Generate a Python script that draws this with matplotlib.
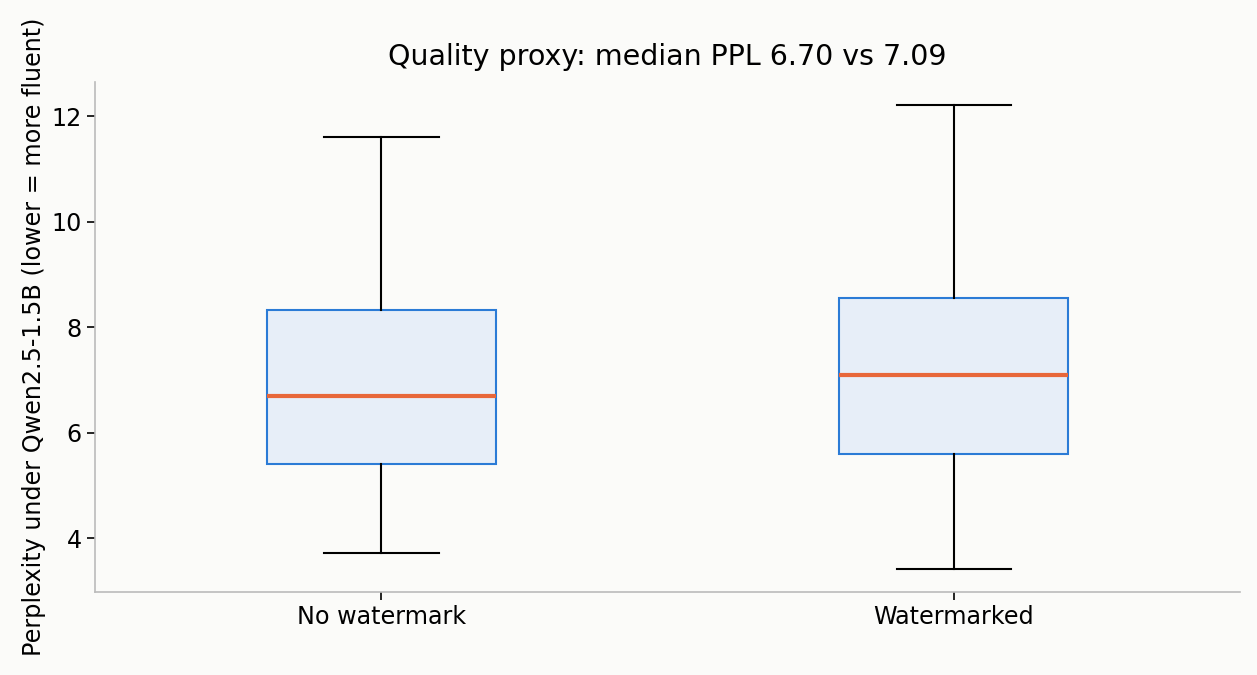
import matplotlib
matplotlib.use("Agg")
import matplotlib.pyplot as plt

categories = ["No watermark", "Watermarked"]
whislo = [3.72, 3.42]
q1 = [5.40, 5.60]
medians = [6.70, 7.09]
q3 = [8.32, 8.55]
whishi = [11.60, 12.21]

stats = [
    dict(label=c, whislo=lo, q1=a, med=m, q3=b, whishi=hi, fliers=[])
    for c, lo, a, m, b, hi in zip(categories, whislo, q1, medians, q3, whishi)
]

bg = "#fbfbf9"
fig = plt.figure(figsize=(12.57, 6.75), dpi=100, facecolor=bg)
ax = fig.add_axes([0.0756, 0.123, 0.9109, 0.7555], facecolor=bg)

ax.bxp(stats, widths=0.4, patch_artist=True, showfliers=False,
       boxprops=dict(facecolor="#e7eef8", edgecolor="#2b7bd6", linewidth=1.5),
       medianprops=dict(color="#e8673a", linewidth=3),
       whiskerprops=dict(color="black", linewidth=1.5),
       capprops=dict(color="black", linewidth=1.5))

ax.set_title("Quality proxy: median PPL 6.70 vs 7.09", fontsize=20.5, pad=12)
ax.set_ylabel("Perplexity under Qwen2.5-1.5B (lower = more fluent)", fontsize=17.2)
ax.tick_params(labelsize=17.2, length=6, width=1.2)
for s in ["top", "right"]:
    ax.spines[s].set_visible(False)
for s in ["left", "bottom"]:
    ax.spines[s].set_color("#bbbbbb")
    ax.spines[s].set_linewidth(1.2)

fig.savefig("out.png", dpi=100, facecolor=bg)
